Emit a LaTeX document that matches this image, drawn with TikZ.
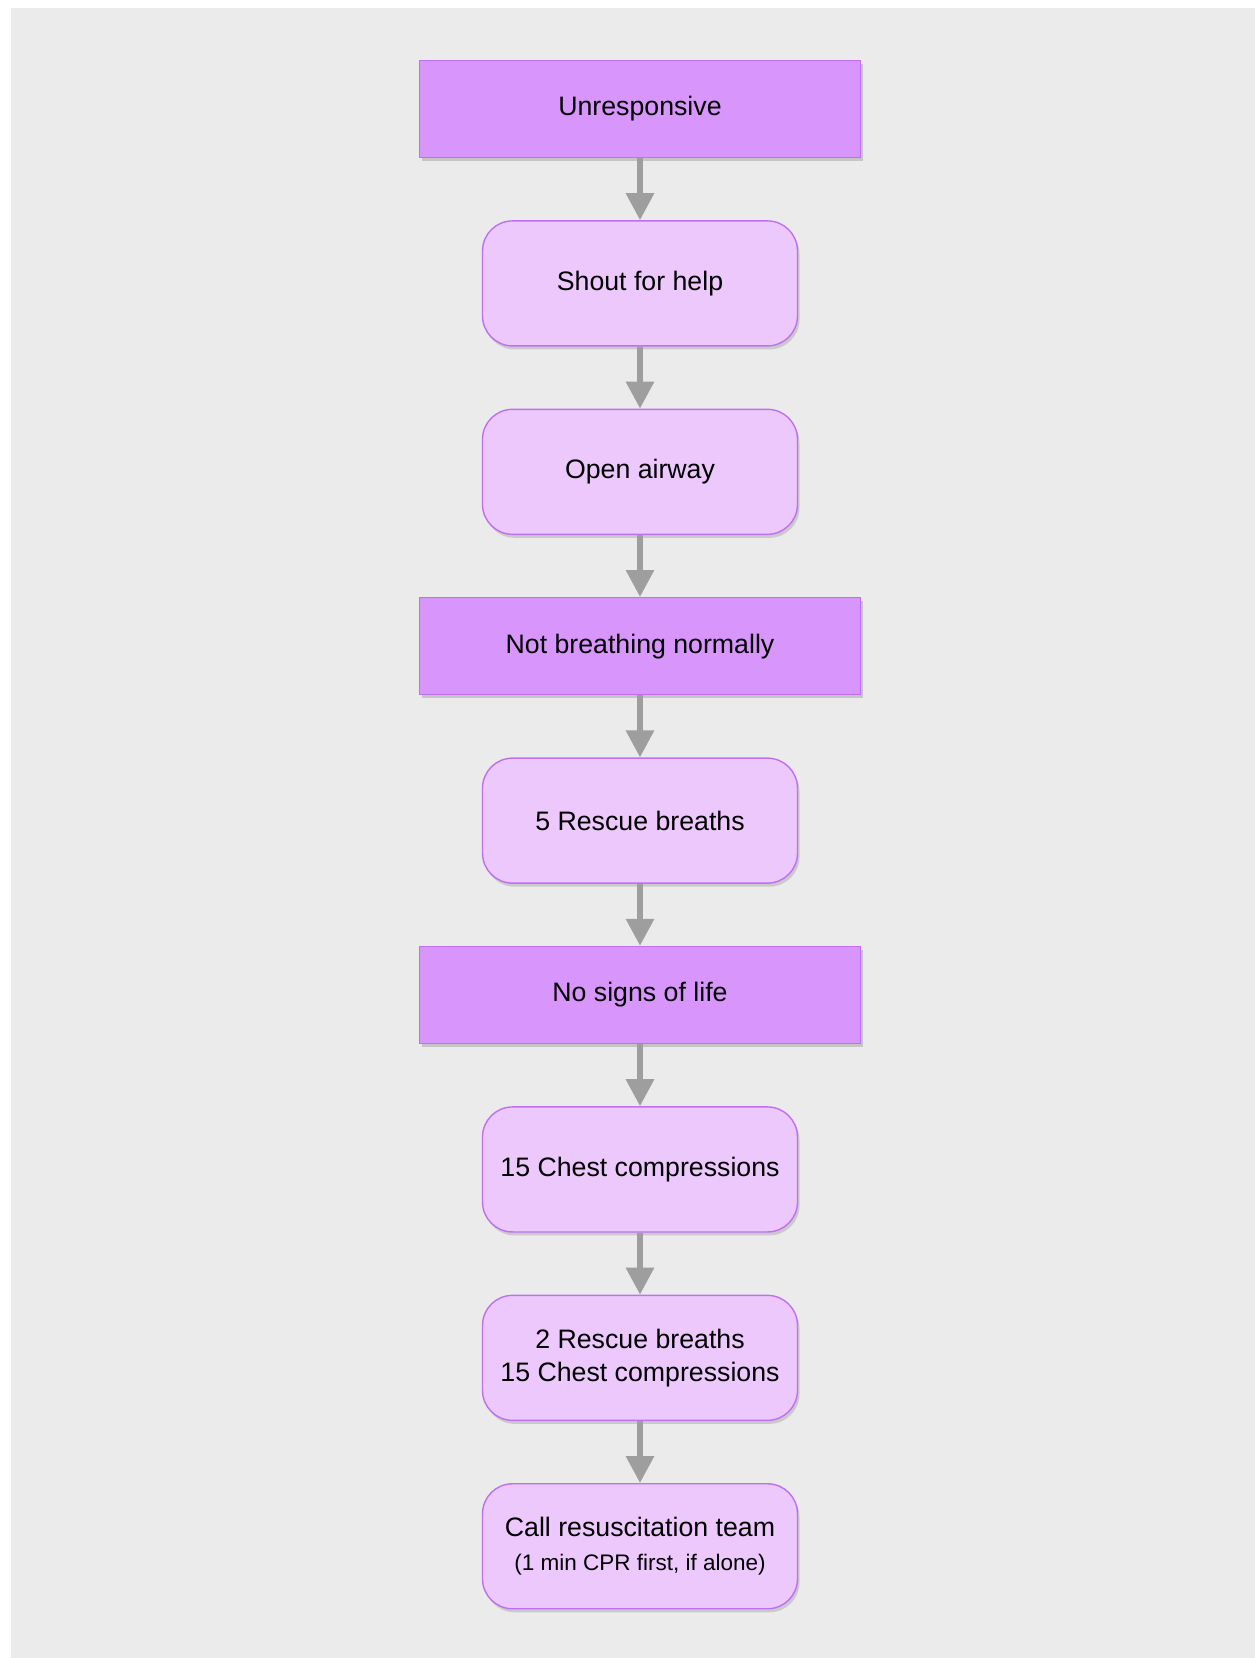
\documentclass[tikz,border=0pt]{standalone}
\usepackage{fontspec}
\setmainfont{Liberation Sans}
\usetikzlibrary{positioning, shadows, arrows.meta}

\definecolor{bggray}{HTML}{EBEBEB}
\definecolor{statefill}{HTML}{D895FC}
\definecolor{actfill}{HTML}{ECC8FC}
\definecolor{boxline}{HTML}{BF70F2}
\definecolor{arrgray}{HTML}{9E9E9E}

\begin{document}
\begin{tikzpicture}[state/.style={rectangle,draw=boxline,fill=statefill,line width=0.8pt,minimum width=8.82cm,minimum height=1.94cm,align=center,drop shadow={shadow xshift=0.04cm,shadow yshift=-0.07cm,opacity=0.35}},
  action/.style={rectangle,rounded corners=0.6cm,draw=boxline,fill=actfill,line width=0.8pt,minimum width=6.3cm,minimum height=2.5cm,align=center,drop shadow={shadow xshift=0.04cm,shadow yshift=-0.07cm,opacity=0.3}},
  arr/.style={arrgray,line width=0.12cm,-{Triangle[length=0.54cm,width=0.54cm]}},
  font=\fontsize{15.2}{19}\selectfont, node distance = 1.24cm ]
\useasboundingbox (0,0) rectangle (25.14,-33.16);
\fill [bggray] (0.22,-0.16) rectangle (25.1,-33.16);
\node (unresp) [state] at (12.8,-2.18) {Unresponsive};
\node (shout) [action,below=of unresp] {Shout for help};
\node (airway) [action,below=of shout] {Open airway};
\node (nobreath) [state,below=of airway] {Not breathing normally};
\node (rescue) [action,below=of nobreath] {5 Rescue breaths};
\node (nolife) [state,below=of rescue] {No signs of life};
\node (chest) [action,below=of nolife] {15 Chest compressions};
\node (cycle) [action,below=of chest] {2 Rescue breaths\\15 Chest compressions};
\node (team) [action,below=of cycle] {Call resuscitation team\\{\fontsize{12.8}{16}\selectfont (1 min CPR first, if alone)}};
  \begin{scope}
    \draw [arr] (unresp) -- (shout);
    \draw [arr] (shout) -- (airway);
    \draw [arr] (airway) -- (nobreath);
    \draw [arr] (nobreath) -- (rescue);
    \draw [arr] (rescue) -- (nolife);
    \draw [arr] (nolife) -- (chest);
    \draw [arr] (chest) -- (cycle);
    \draw [arr] (cycle) -- (team);
  \end{scope}
\end{tikzpicture}
\end{document}
